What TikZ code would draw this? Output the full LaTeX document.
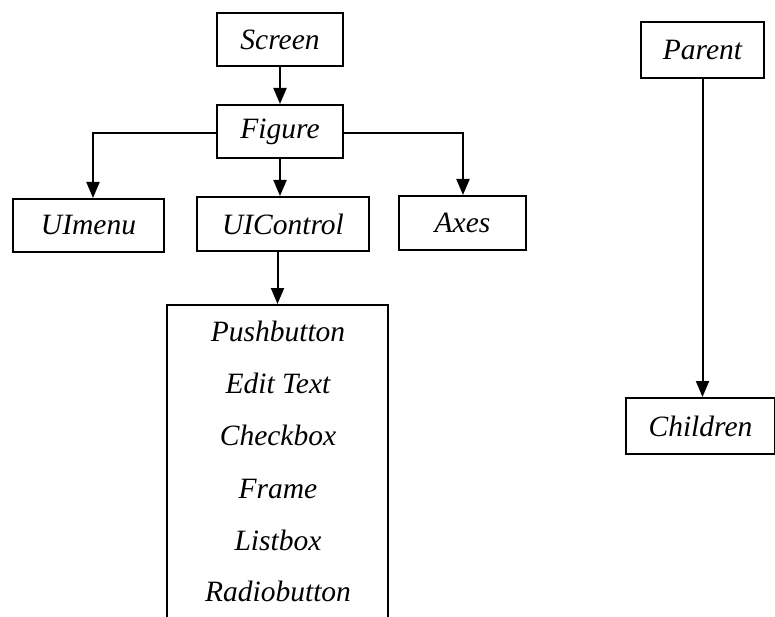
\documentclass[tikz,border=0pt]{standalone}
\usepackage{fontspec}
\setmainfont{Liberation Serif}
\usetikzlibrary{arrows.meta}
\begin{document}
\begin{tikzpicture}[x=1pt,y=-1pt,
  line width=2pt,
  every node/.style={font=\fontsize{29.5}{32}\selectfont\itshape},
  box/.style={draw, line width=2pt, inner sep=0pt, minimum height=53pt},
  item/.style={inner sep=0pt, text height=0.7em, text depth=0.22em},
  link/.style={-{Triangle[length=16pt,width=13pt]}, line width=2pt}]
  \useasboundingbox (0,0) rectangle (775,617);
  \fill[white] (0,0) rectangle (775,617);

  % hierarchy of graphics objects
  \node[box, minimum width=126pt] (screen)  at (280,39.5)  {Screen};
  \node[box, minimum width=126pt] (figure)  at (280,131.5) {Figure};
  \node[box, minimum width=151pt] (uimenu)  at (88.5,225.5) {UImenu};
  \node[box, minimum width=172pt, minimum height=54pt] (uicontrol) at (283,224) {UIControl};
  \node[box, minimum width=127pt, minimum height=54pt] (axes) at (462.5,223) {Axes};

  % list of uicontrol styles (box runs past the lower edge)
  \node[box, anchor=north, minimum width=221pt, minimum height=340pt] (styles) at (277.5,304) {};
  \node[item] (pushbutton)  at (278,339) {Pushbutton};
  \node[item] (edittext)    at (278,391) {Edit Text};
  \node[item] (checkbox)    at (278,443) {Checkbox};
  \node[item] (frame)       at (278,496) {Frame};
  \node[item] (listbox)     at (278,548) {Listbox};
  \node[item] (radiobutton) at (278,599) {Radiobutton};

  % legend
  \node[box, minimum width=123pt, minimum height=56pt] (parent) at (702.5,50) {Parent};
  \node[box, minimum width=149pt, minimum height=56pt] (children) at (700.5,426) {Children};

  % connectors
  \coordinate (fl) at (93,133);
  \coordinate (fr) at (463,133);
  \draw[link] (screen.south) -- (figure.north);
  \draw[link] (figure.west |- fl) -- (fl) -- (fl |- uimenu.north);
  \draw[link] (figure.east |- fr) -- (fr) -- (fr |- axes.north);
  \draw[link] (figure.south) -- (figure.south |- uicontrol.north);
  \draw[link] (uicontrol.south -| styles.north) -- (styles.north);
  \draw[link] (parent.south) -- (parent.south |- children.north);
\end{tikzpicture}
\end{document}
